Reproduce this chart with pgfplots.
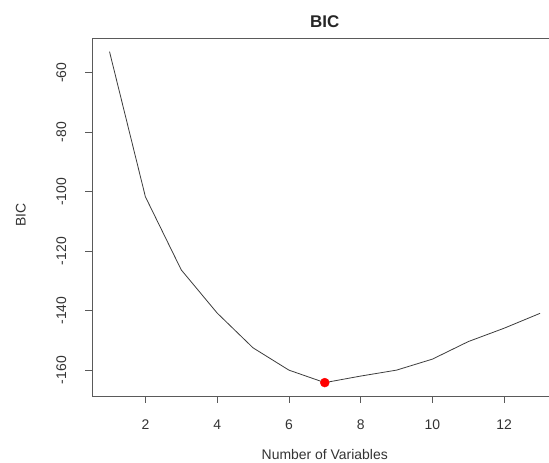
\documentclass[border=0pt]{standalone}
\usepackage{fontspec}
\setmainfont{Liberation Sans}
\usepackage{pgfplots}
\pgfplotsset{compat=1.18}
\definecolor{framegray}{RGB}{90,90,90}
\definecolor{curvegray}{RGB}{60,60,60}

\begin{document}
\begin{tikzpicture}[x=1bp,y=1bp]
\useasboundingbox (0,0) rectangle (549,463);
\begin{axis}[
    at={(92.3bp,67bp)}, anchor=south west,
    scale only axis,
    width=456.7bp, height=357.7bp,
    xmin=0.52, xmax=13.25,
    ymin=-168.7, ymax=-48.4,
    axis x line*=bottom,
    axis y line*=left,
    axis line style={framegray, line width=0.8bp},
    xtick={2,4,6,8,10,12},
    ytick={-160,-140,-120,-100,-80,-60},
    tick align=outside,
    major tick length=7bp,
    tick style={framegray, line width=0.8bp},
    /pgf/number format/assume math mode=true,
    tick label style={font=\fontsize{14}{14}\selectfont, text=black!80},
    xticklabel style={anchor=center, yshift=-22bp},
    yticklabel style={rotate=90, anchor=center, yshift=24bp},
    xlabel={Number of Variables},
    xlabel style={font=\fontsize{14}{14}\selectfont, text=black!80,
                  at={(axis description cs:0.509,0)}, anchor=center, yshift=-59bp},
    ylabel={BIC},
    ylabel style={font=\fontsize{14}{14}\selectfont, text=black!80,
                  at={(axis description cs:0,0.506)}, anchor=center, yshift=71.6bp},
    clip=false,
]
% BIC against model size
\addplot[curvegray, line width=0.8bp, mark=none]
    coordinates {
        (1,-52.9) (2,-101.7) (3,-126.3) (4,-140.8) (5,-152.5) (6,-160.0)
        (7,-164.2) (8,-162.0) (9,-160.0) (10,-156.3) (11,-150.4) (12,-145.9) (13,-140.9)
    };
% minimum
\addplot[only marks, mark=*, mark size=4.5bp, color=red, mark options={fill=red, draw=red}]
    coordinates {(7,-164.2)};

\draw[framegray, line width=0.8bp] (rel axis cs:0,1) -- (rel axis cs:1,1);
\node[font=\bfseries\fontsize{17}{17}\selectfont, text=black!85] at (axis cs:7,-48.4) [yshift=16.6bp] {BIC};
\end{axis}
\end{tikzpicture}
\end{document}
